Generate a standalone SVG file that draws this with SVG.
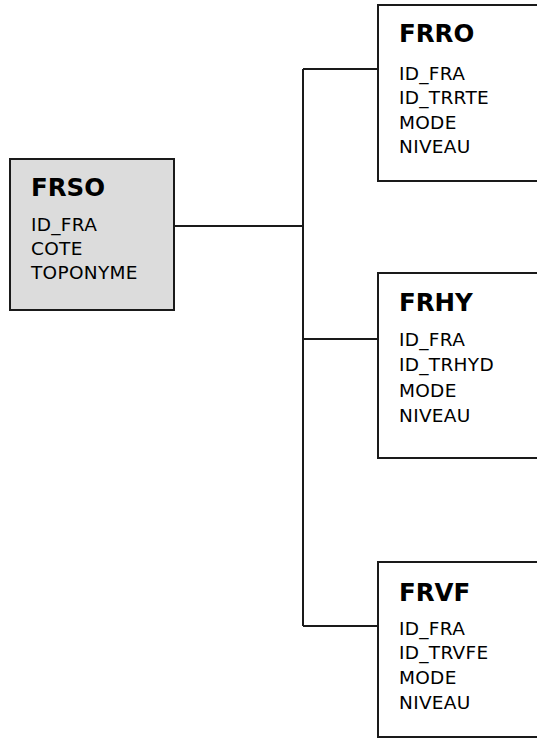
<svg xmlns="http://www.w3.org/2000/svg" width="537" height="740" viewBox="0 0 537 740">
<style>
.box{fill:#fff;stroke:#1a1a1a;stroke-width:2}
.gray{fill:#dcdcdc}
.t{font-family:"DejaVu Sans",sans-serif;font-weight:bold;font-size:24.5px;fill:#000}
.f{font-family:"DejaVu Sans",sans-serif;font-size:18.5px;fill:#000;letter-spacing:0.3px}
.c{fill:none;stroke:#1a1a1a;stroke-width:2}
</style>
<rect width="537" height="740" fill="#fff"/>
<g id="connectors">
<path class="c" d="M174 226H303M303 69V626M303 69H378M303 339H378M303 626H378"/>
</g>
<g id="FRSO">
<rect class="box gray" x="10" y="159" width="164" height="151"/>
<text class="t" x="31" y="196">FRSO</text>
<text class="f" x="31" y="231">ID_FRA</text>
<text class="f" x="31" y="255">COTE</text>
<text class="f" x="31" y="279">TOPONYME</text>
</g>
<g id="FRRO">
<rect class="box" x="378" y="5" width="170" height="176"/>
<text class="t" x="399" y="42">FRRO</text>
<text class="f" x="399" y="80">ID_FRA</text>
<text class="f" x="399" y="104">ID_TRRTE</text>
<text class="f" x="399" y="129">MODE</text>
<text class="f" x="399" y="153">NIVEAU</text>
</g>
<g id="FRHY">
<rect class="box" x="378" y="273" width="170" height="185"/>
<text class="t" x="399" y="311">FRHY</text>
<text class="f" x="399" y="346">ID_FRA</text>
<text class="f" x="399" y="371">ID_TRHYD</text>
<text class="f" x="399" y="397">MODE</text>
<text class="f" x="399" y="422">NIVEAU</text>
</g>
<g id="FRVF">
<rect class="box" x="378" y="562" width="170" height="175"/>
<text class="t" x="399" y="601">FRVF</text>
<text class="f" x="399" y="635">ID_FRA</text>
<text class="f" x="399" y="659">ID_TRVFE</text>
<text class="f" x="399" y="684">MODE</text>
<text class="f" x="399" y="709">NIVEAU</text>
</g>
</svg>
